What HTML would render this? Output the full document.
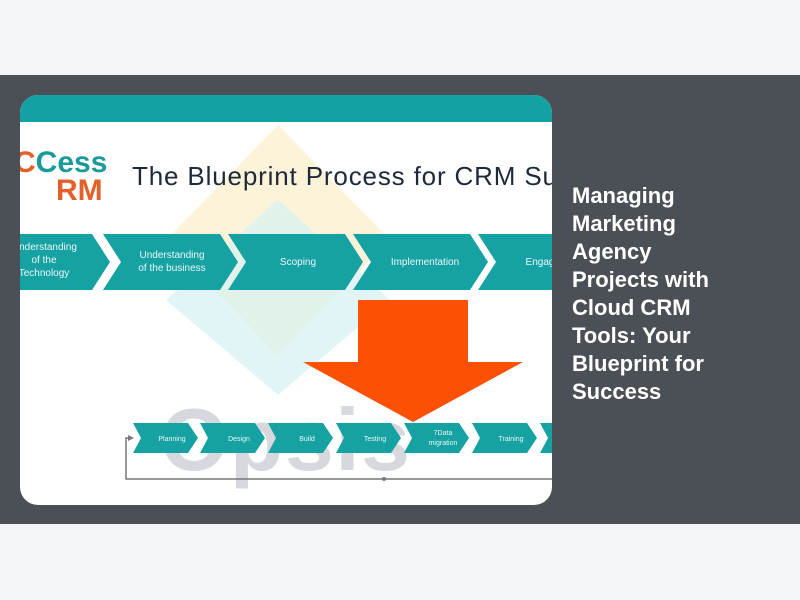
<!DOCTYPE html><html><head><style>
body{margin:0;width:800px;height:600px;background:#f4f5f7;position:relative;overflow:hidden;font-family:"Liberation Sans",sans-serif}
.band{position:absolute;left:0;top:75px;width:800px;height:449px;background:#4b4f56}
.img{position:absolute;left:20px;top:95px;width:532px;height:410px;border-radius:18px;overflow:hidden;background:#fff}
.t{position:absolute;left:572px;top:182px;width:165px;color:#fff;font-weight:bold;font-size:22px;line-height:28px}
</style></head><body>
<div class="band"></div>
<div class="img">
<svg width="532" height="410" viewBox="20 95 532 410" xmlns="http://www.w3.org/2000/svg" font-family="Liberation Sans, sans-serif">
<rect x="20" y="95" width="532" height="27" fill="#13a2a3"/>
<polygon points="278,125 390,240 278,355 166,240" fill="#fdf0d0" opacity="0.8"/>
<polygon points="278,200 390,300 278,395 166,300" fill="#d4f1f2" opacity="0.7"/>
<text x="14" y="172" font-size="30" font-weight="bold" fill="#e4602a">C<tspan fill="#1a9a9a">Cess</tspan></text>
<text x="56" y="200" font-size="30" font-weight="bold" fill="#e4602a">RM</text>
<text x="132" y="185" font-size="26" fill="#1e2a3a" textLength="425">The Blueprint Process for CRM Su</text>
<g fill="#16a2a3">
<polygon points="0,234 92,234 110,262 92,290 0,290"/>
<polygon points="103,234 220,234 238,262 220,290 103,290 121,262"/>
<polygon points="228,234 345,234 363,262 345,290 228,290 246,262"/>
<polygon points="353,234 470,234 488,262 470,290 353,290 371,262"/>
<polygon points="478,234 595,234 613,262 595,290 478,290 496,262"/>
</g>
<g fill="#e8f6f6" font-size="10" text-anchor="middle">
<text x="48" y="250">nderstanding</text><text x="44" y="263">of the</text><text x="44" y="276">Technology</text>
<text x="172" y="258">Understanding</text><text x="172" y="271">of the business</text>
<text x="298" y="265">Scoping</text>
<text x="425" y="265">Implementation</text>
<text x="540" y="265">Engag</text>
</g>
<text x="160" y="470" font-size="88" font-weight="bold" fill="#c9ccd2" opacity="0.75" textLength="250">Opsis</text>
<polygon points="358,300 468,300 468,362 523,362 413,422 303,362 358,362" fill="#fc5104"/>
<g fill="#16a2a3">
<polygon points="133,423 188,423 198,438 188,453 133,453 141,438"/>
<polygon points="200,423 255,423 265,438 255,453 200,453 208,438"/>
<polygon points="268,423 323,423 333,438 323,453 268,453 276,438"/>
<polygon points="336,423 391,423 401,438 391,453 336,453 344,438"/>
<polygon points="404,423 459,423 469,438 459,453 404,453 412,438"/>
<polygon points="472,423 527,423 537,438 527,453 472,453 480,438"/>
<polygon points="540,423 595,423 605,438 595,453 540,453 548,438"/>
</g>
<g fill="#e8f6f6" font-size="7" text-anchor="middle">
<text x="172" y="441">Planning</text><text x="239" y="441">Design</text><text x="307" y="441">Build</text>
<text x="375" y="441">Testing</text><text x="443" y="435">7Data</text><text x="443" y="445">migration</text><text x="511" y="441">Training</text>
</g>
<polyline points="552,479 126,479 126,438 132,438" fill="none" stroke="#777" stroke-width="1.5"/>
<polygon points="134,438 128,435 128,441" fill="#777"/>
<circle cx="384" cy="479" r="2" fill="#777"/>
</svg>
</div>
<div class="t">Managing Marketing Agency Projects with Cloud CRM Tools: Your Blueprint for Success</div>
</body></html>
